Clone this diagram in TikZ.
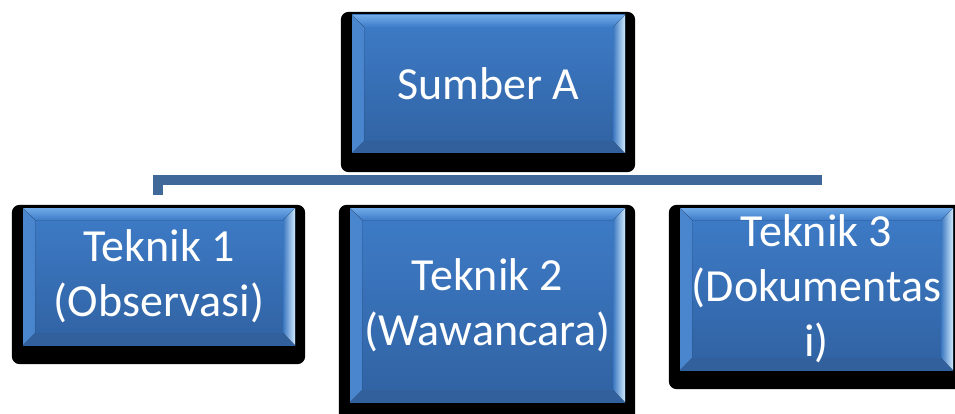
\documentclass[tikz,border=0pt]{standalone}
\usepackage{fontspec}
\newfontfamily\carlito{Carlito}
\usetikzlibrary{backgrounds}
\definecolor{faceTop}{RGB}{62,124,200}
\definecolor{faceBot}{RGB}{48,98,162}
\definecolor{bevTop}{RGB}{112,170,232}
\definecolor{bevLeft}{RGB}{74,134,206}
\definecolor{bevRight}{RGB}{205,232,252}
\definecolor{bevBot}{RGB}{50,96,156}
\definecolor{barblue}{RGB}{64,104,152}
\tikzset{
  box/.style={rectangle, inner sep=0pt, text=white, align=center,
    font=\carlito\fontsize{46}{55}\selectfont,
    top color=faceTop, bottom color=faceBot,
    path picture={
      \fill[left color=bevLeft, right color=faceTop!85!faceBot]
        (path picture bounding box.north west) -- ([xshift=12pt,yshift=-12pt]path picture bounding box.north west)
        -- ([xshift=12pt,yshift=12pt]path picture bounding box.south west)
        -- (path picture bounding box.south west) -- cycle;
      \fill[bevBot]
        (path picture bounding box.south west) -- ([xshift=12pt,yshift=12pt]path picture bounding box.south west)
        -- ([xshift=-12pt,yshift=12pt]path picture bounding box.south east)
        -- (path picture bounding box.south east) -- cycle;
      \fill[left color=faceTop!80!faceBot, right color=bevRight]
        (path picture bounding box.north east) -- ([xshift=-12pt,yshift=-12pt]path picture bounding box.north east)
        -- ([xshift=-12pt,yshift=12pt]path picture bounding box.south east)
        -- (path picture bounding box.south east) -- cycle;
      \fill[top color=bevTop, bottom color=faceTop]
        (path picture bounding box.north west) -- (path picture bounding box.north east)
        -- ([xshift=-12pt,yshift=-12pt]path picture bounding box.north east)
        -- ([xshift=12pt,yshift=-12pt]path picture bounding box.north west) -- cycle;
    }},
  shadowbox/.style={fill=black, rounded corners=8pt},
  bar/.style={draw=barblue, line width=10pt}
}
\begin{document}
\begin{tikzpicture}[x=1pt,y=-1pt]
\useasboundingbox (0,0) rectangle (955,414);
\clip (0,0) rectangle (955,414);
\coordinate (tick) at (158,195);
\coordinate (barend) at (822,180);
\draw[bar] (tick) |- (barend);
\node[box, minimum width=273pt, minimum height=138pt] (src) at (488.5,84) {Sumber A};
\node[box, minimum width=272pt, minimum height=137pt] (t1) at (159,276.5) {Teknik 1\\(Observasi)};
\node[box, minimum width=275pt, minimum height=194pt] (t2) at (487.5,305) {Teknik 2\\(Wawancara)};
\node[box, minimum width=273pt, minimum height=162pt] (t3) at (816.5,289) {Teknik 3\\(Dokumentas\\i)};
\begin{scope}[on background layer]
  \foreach \n in {src,t1,t2,t3}
    \fill[shadowbox] ([xshift=-11pt,yshift=3pt]\n.north west) rectangle ([xshift=10pt,yshift=-19pt]\n.south east);
\end{scope}
\end{tikzpicture}
\end{document}
